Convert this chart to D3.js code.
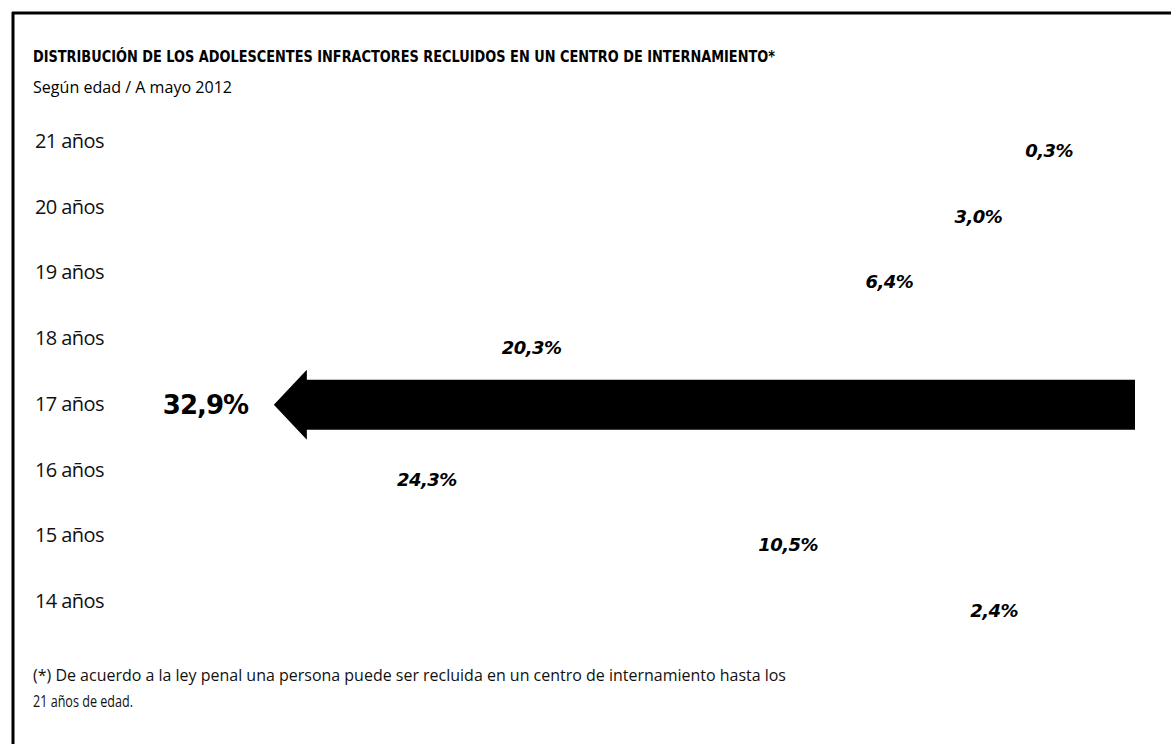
<!DOCTYPE html>
<html>
<head>
<meta charset="utf-8">
<script src="https://cdn.jsdelivr.net/npm/d3@7"></script>
<style>
  body { margin: 0; background: #fff; }
  svg { display: block; }
</style>
</head>
<body>
<svg id="chart" width="1171" height="744"></svg>
<script>
// Adolescentes infractores recluidos, por edad (mayo 2012)
const ages = ["21 años", "20 años", "19 años", "18 años", "17 años", "16 años", "15 años", "14 años"];
const shares = [0.3, 3.0, 6.4, 20.3, 32.9, 24.3, 10.5, 2.4];

const titleText = "DISTRIBUCIÓN DE LOS ADOLESCENTES INFRACTORES RECLUIDOS EN UN CENTRO DE INTERNAMIENTO*";
const subtitleText = "Según edad / A mayo 2012";
const noteLines = [
  "(*) De acuerdo a la ley penal una persona puede ser recluida en un centro de internamiento hasta los",
  "21 años de edad."
];

const rows = ages.map((age, i) => ({ age, value: shares[i] }));
const maxValue = d3.max(shares);
const fmt = v => d3.format(".1f")(v).replace(".", ",") + "%";

const svg = d3.select("#chart");
const sans = "'Open Sans', 'DejaVu Sans', sans-serif";
const heavy = "'DejaVu Sans', sans-serif";

// frame: top and left rules
svg.append("line").attr("x1", 12).attr("x2", 1171).attr("y1", 13).attr("y2", 13)
  .attr("stroke", "#000").attr("stroke-width", 3);
svg.append("line").attr("x1", 13).attr("x2", 13).attr("y1", 12).attr("y2", 744)
  .attr("stroke", "#000").attr("stroke-width", 3);

// headings
svg.append("text").attr("x", 33).attr("y", 62)
  .attr("font-family", heavy).attr("font-weight", "bold").attr("font-size", 15.5)
  .attr("textLength", 742).attr("lengthAdjust", "spacingAndGlyphs")
  .text(titleText);
svg.append("text").attr("x", 33).attr("y", 93)
  .attr("font-family", sans).attr("font-size", 16.5)
  .attr("textLength", 199).attr("lengthAdjust", "spacingAndGlyphs")
  .text(subtitleText);

// scales: bars grow leftwards from the right edge
const x = d3.scaleLinear().domain([0, 40]).range([1135, 1135 - 40 * 26.175]);
const y = d3.scalePoint().domain(ages).range([148, 608]);

// age labels
svg.append("g").selectAll("text").data(rows).join("text")
  .attr("x", 35).attr("y", d => y(d.age))
  .attr("font-family", sans).attr("font-size", 20).attr("fill", "#111")
  .attr("letter-spacing", -0.6)
  .text(d => d.age);

// arrows: only the largest group is filled
const shaftH = 50, headH = 70, headL = 33;
function arrowPath(d) {
  const cy = y(d.age) - 6;
  const tip = x(d.value), end = x(0);
  const p = d3.path();
  p.moveTo(tip, cy);
  p.lineTo(tip + headL, cy - headH / 2);
  p.lineTo(tip + headL, cy - shaftH / 2);
  p.lineTo(end, cy - shaftH / 2);
  p.lineTo(end, cy + shaftH / 2);
  p.lineTo(tip + headL, cy + shaftH / 2);
  p.lineTo(tip + headL, cy + headH / 2);
  p.closePath();
  return p.toString();
}
svg.append("g").selectAll("path").data(rows).join("path")
  .attr("d", arrowPath)
  .attr("fill", d => d.value === maxValue ? "#000" : "none");

// value labels
svg.append("g").selectAll("text").data(rows).join("text")
  .attr("x", d => d.value === maxValue ? x(d.value) - 111 : x(d.value) - 102)
  .attr("y", d => d.value === maxValue ? y(d.age) + 3 : y(d.age) + 9)
  .attr("font-family", heavy).attr("font-weight", "bold")
  .attr("font-style", d => d.value === maxValue ? "normal" : "italic")
  .attr("font-size", d => d.value === maxValue ? 26 : 18)
  .attr("letter-spacing", d => d.value === maxValue ? -1 : -0.5)
  .text(d => fmt(d.value));

// footnote
svg.append("g").selectAll("text").data(noteLines).join("text")
  .attr("x", 33).attr("y", (d, i) => 681 + i * 26)
  .attr("font-family", sans).attr("font-size", 15.5).attr("fill", "#111")
  .attr("textLength", (d, i) => i === 0 ? 753 : 100)
  .attr("lengthAdjust", "spacingAndGlyphs")
  .text(d => d);
</script>
</body>
</html>
